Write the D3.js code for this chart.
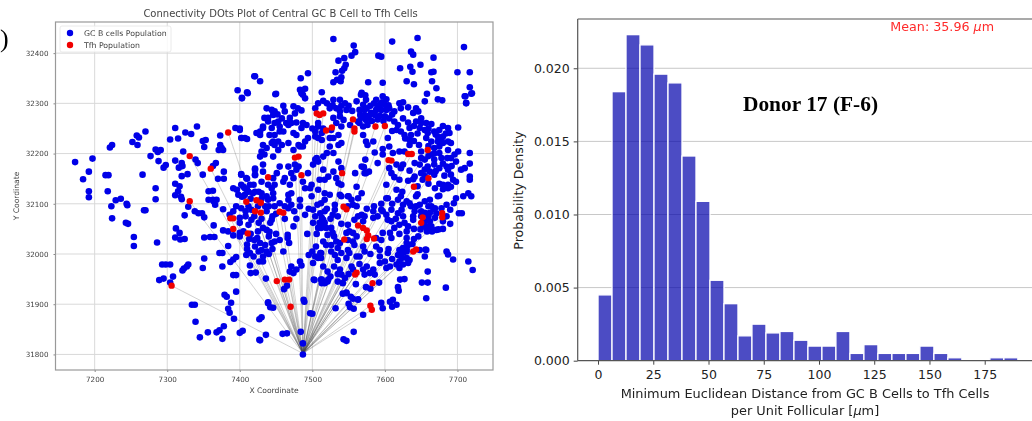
<!DOCTYPE html>
<html>
<head>
<meta charset="utf-8">
<title>Connectivity dots and distance histogram</title>
<script src="https://d3js.org/d3.v7.min.js"></script>
<style>
  html, body { margin: 0; padding: 0; background: #fff; }
  svg { display: block; }
  text { font-family: "DejaVu Sans", sans-serif; }
</style>
</head>
<body>
<svg id="chart" width="1032" height="421"></svg>
<script>
// ============ scatter data (x, y) ============
const gcFarLeft = [[7421,32354],[7397,32326],[7411,32320],[7403,32311],[7394,32251],[7400,32250],[7311,32251],[7341,32254],[7325,32242],[7333,32239],[7304,32228],[7315,32230],[7270,32244],[7258,32236],[7261,32232],[7252,32223],[7259,32217],[7224,32217],[7221,32212],[7349,32225],[7353,32227],[7351,32213],[7373,32236],[7403,32231],[7410,32229],[7373,32217],[7375,32211],[7371,32207],[7377,32207],[7322,32204],[7284,32208],[7291,32207],[7287,32203],[7277,32195],[7288,32185],[7173,32183],[7197,32190],[7192,32164],[7184,32149],[7215,32157],[7219,32157],[7266,32158],[7298,32177],[7295,32172],[7311,32186],[7339,32188],[7342,32181],[7320,32181],[7321,32175],[7316,32172],[7320,32155],[7328,32159],[7349,32158],[7367,32181],[7363,32175],[7370,32150],[7378,32164],[7378,32150],[7402,32159],[7410,32150],[7421,32170],[7421,32157],[7192,32125],[7192,32113],[7218,32125],[7284,32131],[7311,32140],[7317,32135],[7315,32125],[7311,32117],[7319,32114],[7320,32109],[7284,32109],[7229,32107],[7236,32110],[7244,32100],[7357,32125],[7363,32126],[7364,32105],[7357,32108],[7368,32108],[7391,32131],[7396,32128],[7398,32118],[7403,32114],[7407,32118],[7410,32128],[7414,32138],[7419,32138],[7405,32134],[7426,32124],[7430,32121],[7421,32124]];

const gcLowerLeft = [[7223,32095],[7224,32071],[7243,32062],[7246,32060],[7245,32097],[7268,32087],[7270,32087],[7254,32034],[7254,32016],[7286,32023],[7312,32051],[7317,32042],[7311,32033],[7318,32029],[7324,32030],[7324,32077],[7329,32094],[7338,32085],[7343,32081],[7348,32081],[7351,32073],[7364,32057],[7377,32089],[7351,32033],[7359,32034],[7365,32034],[7377,32047],[7384,32016],[7410,32019],[7395,31994],[7391,31989],[7387,31984],[7372,32002],[7376,32002],[7351,31991],[7349,31972],[7376,31975],[7293,31979],[7298,31979],[7304,31979],[7329,31979],[7327,31975],[7323,31971],[7321,31967],[7289,31948],[7295,31951],[7304,31943],[7308,31955],[7395,31958],[7391,31958],[7414,31977],[7415,31962],[7422,31963],[7395,31925],[7379,31919],[7382,31915],[7388,31903],[7384,31891],[7386,31883],[7392,31871],[7334,31899],[7338,31899],[7339,31865],[7378,31856],[7372,31848],[7368,31844],[7356,31844],[7345,31834],[7376,31831],[7400,31843],[7404,31847],[7427,31870],[7427,31829]];

const gcLowerRight = [[7430,31874],[7436,31839],[7428,31828],[7459,31841],[7465,31842],[7439,31902],[7442,31894],[7446,31893],[7461,31930],[7465,31937],[7436,31951],[7503,31948],[7513,31949],[7517,31943],[7522,31949],[7488,31909],[7489,31905],[7497,31882],[7500,31881],[7484,31845],[7487,31822],[7487,31800],[7532,31892],[7543,31830],[7547,31827],[7557,31845],[7570,31879],[7552,31894],[7557,31891],[7550,31901],[7563,31910],[7553,31915],[7542,31921],[7547,31923],[7595,31903],[7597,31892],[7607,31905],[7611,31909],[7610,31895],[7616,31899],[7657,31912],[7684,31933],[7618,31934],[7619,31927],[7621,31949],[7627,31950],[7651,31943],[7659,31943],[7659,31965],[7685,32005],[7687,31999],[7694,31989],[7715,31985],[7721,31968],[7574,31934],[7580,31931],[7592,31943],[7702,32081],[7706,32081],[7678,32091],[7685,32098],[7690,32088],[7695,32101],[7662,32082],[7667,32089],[7655,32082],[7660,32055],[7665,32045],[7674,32049],[7658,32045],[7649,32049],[7656,32009]];

const gcTop = [[7529,32428],[7557,32415],[7559,32402],[7554,32395],[7536,32385],[7544,32390],[7546,32377],[7544,32370],[7541,32365],[7532,32362],[7540,32352],[7534,32347],[7529,32342],[7539,32344],[7494,32360],[7484,32350],[7420,32354],[7428,32344],[7577,32342],[7597,32341],[7591,32395],[7595,32393],[7610,32423],[7645,32430],[7636,32403],[7639,32397],[7667,32391],[7621,32370],[7635,32373],[7638,32363],[7649,32377],[7630,32344],[7640,32338],[7664,32362],[7667,32363],[7700,32362],[7717,32362],[7709,32412],[7665,32344],[7671,32330],[7711,32314],[7720,32320],[7717,32332],[7712,32301],[7483,32327],[7490,32329],[7485,32320],[7449,32318],[7568,32321],[7573,32316]];

const gcMidLeftUpper = [[7450,32319],[7485,32324],[7487,32317],[7490,32310],[7513,32322],[7410,32322],[7403,32310],[7437,32290],[7444,32287],[7448,32284],[7446,32277],[7439,32271],[7434,32271],[7432,32254],[7439,32264],[7453,32264],[7448,32261],[7455,32254],[7462,32284],[7474,32294],[7476,32280],[7469,32271],[7471,32261],[7464,32261],[7467,32257],[7485,32286],[7487,32261],[7492,32257],[7485,32251],[7508,32300],[7504,32290],[7508,32261],[7508,32254],[7504,32244],[7474,32241],[7478,32237],[7460,32244],[7455,32244],[7444,32251],[7448,32237],[7441,32237],[7428,32244],[7423,32241],[7428,32237],[7432,32251],[7402,32231],[7407,32231],[7400,32247],[7446,32224],[7453,32224],[7458,32217],[7467,32221],[7448,32217],[7444,32221],[7432,32217],[7437,32211],[7430,32204],[7434,32198],[7428,32194],[7453,32207],[7446,32194],[7474,32207],[7481,32217],[7490,32224],[7494,32231],[7487,32214],[7483,32214],[7508,32231],[7504,32234],[7513,32227],[7524,32231],[7529,32231],[7513,32241],[7524,32214],[7536,32217],[7540,32221],[7529,32201],[7520,32201],[7515,32194],[7506,32191],[7508,32184],[7504,32188],[7536,32184],[7559,32161],[7540,32171],[7529,32164],[7515,32168],[7501,32178],[7494,32161],[7510,32148],[7522,32154],[7517,32148],[7533,32151],[7536,32141],[7540,32138],[7517,32121],[7524,32118],[7538,32118],[7550,32115],[7508,32128],[7499,32138],[7497,32131],[7490,32131],[7487,32144],[7478,32168],[7476,32178],[7481,32174],[7467,32174],[7455,32174],[7451,32161],[7462,32151],[7471,32161],[7474,32151],[7469,32138],[7460,32144],[7432,32178],[7432,32164],[7421,32168],[7421,32158],[7409,32151],[7402,32158],[7430,32144],[7439,32138],[7446,32151],[7448,32138],[7444,32131],[7446,32121],[7437,32115],[7418,32121],[7412,32124],[7407,32131],[7402,32138],[7405,32115],[7467,32118],[7471,32121],[7499,32115],[7568,32174],[7572,32161],[7568,32121],[7563,32111],[7561,32134],[7538,32307],[7529,32307],[7545,32300],[7547,32287],[7561,32304],[7533,32290],[7524,32290],[7538,32284],[7538,32274],[7543,32267],[7529,32271],[7552,32257],[7566,32277],[7563,32264],[7540,32254],[7533,32261],[7526,32247],[7536,32237]];

const gcMidRightUpper = [[7567,32317],[7574,32307],[7570,32297],[7565,32287],[7572,32287],[7588,32307],[7597,32314],[7602,32308],[7593,32297],[7600,32297],[7588,32287],[7595,32287],[7602,32287],[7586,32277],[7593,32275],[7600,32274],[7581,32281],[7606,32290],[7613,32284],[7620,32300],[7625,32302],[7632,32292],[7622,32290],[7639,32281],[7643,32290],[7646,32284],[7655,32304],[7658,32319],[7673,32308],[7679,32306],[7710,32314],[7719,32319],[7712,32300],[7701,32252],[7567,32271],[7574,32267],[7565,32261],[7570,32254],[7576,32257],[7570,32237],[7574,32224],[7576,32217],[7584,32224],[7604,32231],[7606,32214],[7613,32264],[7618,32257],[7616,32247],[7622,32244],[7627,32237],[7634,32251],[7643,32264],[7650,32261],[7657,32261],[7664,32259],[7648,32251],[7655,32247],[7659,32241],[7636,32237],[7634,32227],[7634,32217],[7647,32217],[7657,32231],[7664,32224],[7668,32244],[7675,32247],[7680,32255],[7687,32251],[7689,32241],[7673,32234],[7680,32234],[7673,32224],[7680,32221],[7687,32224],[7691,32221],[7675,32214],[7668,32211],[7687,32207],[7701,32204],[7696,32198],[7717,32201],[7664,32198],[7675,32201],[7668,32188],[7678,32191],[7686,32191],[7691,32191],[7698,32184],[7717,32180],[7650,32204],[7650,32191],[7641,32181],[7648,32178],[7655,32188],[7659,32174],[7668,32178],[7675,32171],[7685,32174],[7687,32168],[7705,32168],[7710,32171],[7627,32204],[7620,32204],[7611,32201],[7597,32209],[7586,32202],[7597,32198],[7590,32181],[7573,32188],[7571,32173],[7578,32164],[7574,32161],[7616,32178],[7625,32178],[7622,32171],[7634,32166],[7606,32171],[7609,32161],[7613,32153],[7620,32148],[7632,32146],[7639,32149],[7641,32154],[7650,32161],[7655,32168],[7662,32164],[7652,32148],[7668,32158],[7682,32156],[7691,32158],[7694,32148],[7698,32144],[7717,32154],[7717,32148],[7687,32138],[7680,32138],[7680,32129],[7687,32131],[7691,32134],[7669,32131],[7602,32138],[7616,32128],[7624,32124],[7645,32119],[7675,32116],[7602,32111],[7622,32115],[7698,32111],[7708,32115],[7715,32121],[7719,32115]];

const gcMidLeftLower = [[7363,32108],[7366,32098],[7386,32078],[7391,32085],[7402,32091],[7412,32095],[7416,32088],[7439,32108],[7446,32111],[7435,32095],[7437,32085],[7448,32095],[7455,32101],[7467,32108],[7471,32098],[7467,32091],[7483,32108],[7483,32095],[7507,32098],[7501,32088],[7511,32081],[7504,32075],[7513,32072],[7501,32062],[7508,32052],[7515,32058],[7506,32040],[7493,32040],[7400,32072],[7400,32062],[7416,32068],[7412,32058],[7426,32062],[7444,32068],[7442,32062],[7462,32070],[7478,32070],[7474,32055],[7432,32052],[7437,32048],[7441,32044],[7384,32045],[7391,32037],[7400,32042],[7400,32035],[7413,32030],[7424,32032],[7428,32022],[7421,32015],[7426,32005],[7435,32018],[7444,32022],[7448,32025],[7430,32008],[7437,32005],[7414,32002],[7409,31998],[7419,31995],[7432,31995],[7427,31985],[7432,31985],[7460,32005],[7466,32038],[7466,32032],[7468,32022],[7495,31998],[7504,31995],[7511,32002],[7508,31992],[7501,31982],[7483,31985],[7485,31977],[7471,31975],[7478,31969],[7474,31962],[7469,31965],[7439,31904],[7502,31949],[7513,31942]];

const gcMidRightLower = [[7517,32108],[7512,32101],[7540,32115],[7549,32115],[7554,32108],[7556,32098],[7549,32095],[7561,32095],[7531,32098],[7531,32088],[7528,32078],[7517,32085],[7515,32068],[7510,32062],[7517,32062],[7512,32052],[7519,32052],[7526,32052],[7528,32042],[7521,32038],[7568,32078],[7563,32075],[7572,32075],[7570,32065],[7549,32058],[7558,32068],[7551,32045],[7547,32042],[7556,32042],[7561,32035],[7533,32025],[7526,32018],[7519,32018],[7538,32022],[7535,32012],[7526,32005],[7531,31998],[7512,32002],[7512,31992],[7549,32028],[7556,32025],[7558,32018],[7549,32008],[7540,32002],[7551,32002],[7547,31992],[7535,31988],[7561,31995],[7565,31995],[7572,32005],[7588,32015],[7593,32008],[7593,31995],[7604,32002],[7593,31982],[7600,31985],[7607,31975],[7602,31972],[7584,32072],[7590,32075],[7597,32085],[7602,32078],[7609,32088],[7618,32081],[7595,32088],[7584,32085],[7604,32068],[7609,32065],[7620,32058],[7627,32062],[7632,32055],[7613,32052],[7597,32042],[7607,32042],[7609,32032],[7595,32028],[7588,32032],[7639,32075],[7639,32068],[7641,32085],[7648,32098],[7655,32105],[7662,32108],[7643,32095],[7664,32095],[7669,32091],[7673,32115],[7671,32081],[7669,32072],[7662,32065],[7664,32055],[7671,32048],[7657,32052],[7653,32058],[7646,32035],[7623,32088],[7618,32108],[7604,32111],[7643,32115],[7630,32105],[7634,32101],[7636,32095],[7630,32032],[7630,32022],[7632,32018],[7620,32008],[7625,32002],[7630,32005],[7618,31998],[7623,31992],[7630,31992],[7620,31985],[7616,31979],[7625,31979],[7632,31982],[7620,31972],[7634,31988],[7648,32008],[7657,32008],[7655,31995],[7570,31969],[7572,31959],[7579,31962],[7584,31969],[7586,31959],[7554,31975],[7556,31969],[7538,31969],[7540,31959],[7545,31952],[7542,31942],[7535,31945],[7521,31965],[7521,31945],[7517,31942],[7512,31949],[7547,31922],[7556,31911],[7563,31909]];

// cells inside the solid blobs, where single dots cannot be told apart
const gcDenseUpper = [[7575,32290],[7580,32295],[7585,32300],[7590,32292],[7596,32302],[7605,32296],[7610,32278],[7578,32275],[7590,32268],[7598,32265],[7606,32270],[7582,32265],[7572,32276],[7540,32295],[7550,32295],[7555,32285],[7520,32300],[7528,32296],[7515,32305],[7480,32290],[7460,32295],[7452,32278],[7458,32270],[7478,32262],[7500,32250],[7515,32250],[7625,32270],[7632,32262],[7640,32255],[7650,32270],[7660,32250],[7670,32238],[7678,32228],[7684,32240],[7660,32215],[7668,32200],[7680,32180],[7692,32175],[7660,32195],[7670,32165],[7655,32155],[7660,32140],[7645,32135],[7675,32140],[7610,32245],[7640,32225],[7645,32240],[7628,32230]];

const gcDenseLower = [[7408,32085],[7420,32075],[7430,32070],[7408,32075],[7395,32095],[7405,32045],[7415,32040],[7425,32045],[7450,32080],[7445,32075],[7440,32095],[7462,32095],[7475,32085],[7490,32078],[7495,32090],[7410,32010],[7420,32028],[7440,32035],[7450,32040],[7455,32028],[7520,32090],[7535,32075],[7525,32070],[7540,32060],[7530,32035],[7575,32090],[7585,32095],[7595,32100],[7610,32100],[7625,32098],[7650,32085],[7660,32095],[7650,32075],[7660,32075],[7655,32065],[7680,32065],[7685,32075],[7680,32050],[7690,32060],[7625,32075],[7615,32070],[7630,32045],[7640,32050],[7620,32040],[7640,32030],[7630,32010],[7638,32020],[7625,32012],[7610,31990],[7605,32010],[7570,32015],[7580,32000],[7565,31980],[7575,31975],[7550,31960],[7560,31940],[7535,31960],[7525,31955],[7530,31975],[7515,31975],[7505,32015],[7515,32025],[7500,32005],[7440,32000],[7445,32010],[7425,32095],[7430,32110],[7415,32110]];

const tfhCells = [[7384,32242],[7331,32195],[7360,32170],[7331,32105],[7409,32104],[7423,32107],[7506,32280],[7510,32277],[7515,32280],[7519,32246],[7527,32252],[7556,32268],[7558,32250],[7558,32244],[7587,32254],[7600,32255],[7476,32192],[7481,32194],[7485,32157],[7439,32153],[7541,32161],[7605,32187],[7609,32186],[7632,32199],[7637,32199],[7659,32207],[7660,32151],[7640,32134],[7429,32102],[7306,31937],[7387,32071],[7391,32071],[7391,32050],[7411,32041],[7421,32085],[7429,32082],[7455,32084],[7460,32082],[7543,32094],[7547,32089],[7563,32057],[7570,32052],[7575,32047],[7577,32037],[7575,32030],[7585,32031],[7544,32029],[7652,32073],[7650,32062],[7679,32081],[7679,32073],[7639,32005],[7643,32009],[7559,31959],[7561,31963],[7583,31942],[7451,31946],[7462,31949],[7468,31949],[7470,31895],[7580,31897],[7582,31889]];

const centralCell = [7487, 31802];
const scatterXTicks = [7200, 7300, 7400, 7500, 7600, 7700];
const scatterYTicks = [31800, 31900, 32000, 32100, 32200, 32300, 32400];

// ============ histogram data ============
const binWidth = 190 / 30;
const densities = [0.0045, 0.0184, 0.0223, 0.0216, 0.0196, 0.0190, 0.0140, 0.0109, 0.0055, 0.0039, 0.0017, 0.0025, 0.0019, 0.0020, 0.0014, 0.0010, 0.0010, 0.0020, 0.0005, 0.0011, 0.0005, 0.0005, 0.0005, 0.0010, 0.0005, 0.0002, 0, 0, 0.0002, 0.0002];
const histXTicks = [0, 25, 50, 75, 100, 125, 150, 175];
const histYTicks = [0, 0.005, 0.010, 0.015, 0.020];

(function() {
  'use strict';

  const svg = d3.select('#chart');
  const defs = svg.append('defs');
  defs.append('filter').attr('id', 'soft')
    .append('feGaussianBlur').attr('stdDeviation', 0.5);

  drawScatter();
  drawHistogram();

  // cropped panel label at the page edge
  svg.append('text')
    .attr('x', 0).attr('y', 47)
    .style('font-family', '"Liberation Serif", serif')
    .style('font-size', '26px')
    .text(')');

  /**
   * left panel: GC B cells, Tfh cells and the links from the central cell
   */
  function drawScatter() {
    const left = 55.5, right = 493, top = 22, bottom = 370;
    const x = d3.scaleLinear().domain([7146, 7749]).range([left, right]);
    const y = d3.scaleLinear().domain([31769, 32462]).range([bottom, top]);

    const g = svg.append('g').attr('filter', 'url(#soft)');

    // grid
    g.append('g').selectAll('line').data(scatterXTicks).join('line')
      .attr('x1', d => x(d)).attr('x2', d => x(d))
      .attr('y1', top).attr('y2', bottom)
      .style('stroke', '#d9d9d9').style('stroke-width', 1);
    g.append('g').selectAll('line').data(scatterYTicks).join('line')
      .attr('x1', left).attr('x2', right)
      .attr('y1', d => y(d)).attr('y2', d => y(d))
      .style('stroke', '#d9d9d9').style('stroke-width', 1);

    // links
    g.append('g').selectAll('line').data(tfhCells).join('line')
      .attr('x1', x(centralCell[0])).attr('y1', y(centralCell[1]))
      .attr('x2', d => x(d[0])).attr('y2', d => y(d[1]))
      .style('stroke', '#444').style('stroke-opacity', 0.3).style('stroke-width', 0.8);

    const gcCells = [].concat(gcFarLeft, gcLowerLeft, gcLowerRight, gcTop,
      gcMidLeftUpper, gcMidRightUpper, gcMidLeftLower, gcMidRightLower,
      gcDenseUpper, gcDenseLower);

    g.append('g').selectAll('circle').data(gcCells).join('circle')
      .attr('cx', d => x(d[0])).attr('cy', d => y(d[1])).attr('r', 3.3)
      .style('fill', '#0000e8');
    g.append('g').selectAll('circle').data(tfhCells).join('circle')
      .attr('cx', d => x(d[0])).attr('cy', d => y(d[1])).attr('r', 3.2)
      .style('fill', '#f00000');

    // axes
    const xAxis = g.append('g').attr('transform', `translate(0,${bottom})`)
      .call(d3.axisBottom(x).tickValues(scatterXTicks).tickFormat(d3.format('d')).tickSize(2).tickPadding(5));
    const yAxis = g.append('g').attr('transform', `translate(${left},0)`)
      .call(d3.axisLeft(y).tickValues(scatterYTicks).tickFormat(d3.format('d')).tickSize(2).tickPadding(5));
    [xAxis, yAxis].forEach(a => {
      a.selectAll('text').style('font-size', '7.2px').style('fill', '#444');
      a.selectAll('line').style('stroke', '#888');
      a.select('.domain').remove();
    });

    // frame
    g.append('rect')
      .attr('x', left).attr('y', top)
      .attr('width', right - left).attr('height', bottom - top)
      .style('fill', 'none').style('stroke', '#999').style('stroke-width', 1.2);

    // legend
    const legend = g.append('g');
    legend.append('rect')
      .attr('x', 60).attr('y', 26).attr('width', 111).attr('height', 26).attr('rx', 2)
      .style('fill', '#fff').style('fill-opacity', 0.85)
      .style('stroke', '#e4e4e4').style('stroke-width', 0.8);
    [['GC B cells Population', '#0000e8', 33], ['Tfh Population', '#f00000', 45]].forEach(item => {
      legend.append('circle').attr('cx', 70).attr('cy', item[2]).attr('r', 3.2).style('fill', item[1]);
      legend.append('text').attr('x', 84).attr('y', item[2] + 2.5)
        .style('font-size', '7.8px').style('fill', '#444').text(item[0]);
    });

    // titles
    g.append('text').attr('x', 280.5).attr('y', 17).attr('text-anchor', 'middle')
      .style('font-size', '10px').style('fill', '#444')
      .text('Connectivity DOts Plot of Central GC B Cell to Tfh Cells');
    g.append('text').attr('x', 274).attr('y', 393).attr('text-anchor', 'middle')
      .style('font-size', '7.6px').style('fill', '#444').text('X Coordinate');
    g.append('text').attr('transform', 'translate(19,196) rotate(-90)').attr('text-anchor', 'middle')
      .style('font-size', '7.6px').style('fill', '#444').text('Y Coordinate');
  }

  /**
   * right panel: histogram of minimum distances
   */
  function drawHistogram() {
    const left = 577.7, right = 1032, top = 19, bottom = 360.7;
    const x = d3.scaleLinear().domain([-9.2, 196.4]).range([left, right]);
    const y = d3.scaleLinear().domain([0, 0.02337]).range([bottom, top]);

    const g = svg.append('g');

    g.append('g').selectAll('line').data(histYTicks.slice(1)).join('line')
      .attr('x1', left).attr('x2', right)
      .attr('y1', d => y(d)).attr('y2', d => y(d))
      .style('stroke', '#c8c8c8').style('stroke-width', 1);

    g.append('g').selectAll('rect').data(densities).join('rect')
      .attr('x', (d, i) => x(i * binWidth))
      .attr('y', d => y(d))
      .attr('width', x(binWidth) - x(0))
      .attr('height', d => bottom - y(d))
      .style('fill', '#0000ab').style('fill-opacity', 0.7)
      .style('stroke', '#fff').style('stroke-width', 1.3);

    const xAxis = g.append('g').attr('transform', `translate(0,${bottom})`)
      .call(d3.axisBottom(x).tickValues(histXTicks).tickSize(4).tickPadding(5));
    const yAxis = g.append('g').attr('transform', `translate(${left},0)`)
      .call(d3.axisLeft(y).tickValues(histYTicks).tickFormat(d3.format('.3f')).tickSize(4).tickPadding(4));
    [xAxis, yAxis].forEach(a => {
      a.selectAll('text').style('font-size', '12.5px').style('fill', '#222');
      a.selectAll('line').style('stroke', '#444');
      a.select('.domain').remove();
    });

    // spines: left, top and bottom, the right one is outside the crop
    [[left, top, right, top], [left, top, left, bottom], [left, bottom, right, bottom]].forEach(s => {
      g.append('line')
        .attr('x1', s[0]).attr('y1', s[1]).attr('x2', s[2]).attr('y2', s[3])
        .style('stroke', '#555').style('stroke-width', 1.2);
    });

    g.append('text').attr('transform', 'translate(523,190.5) rotate(-90)').attr('text-anchor', 'middle')
      .style('font-size', '12.6px').style('fill', '#222').text('Probability Density');
    g.append('text').attr('x', 805).attr('y', 398).attr('text-anchor', 'middle')
      .style('font-size', '12.9px').style('fill', '#222')
      .text('Minimum Euclidean Distance from GC B Cells to Tfh Cells');
    const unitLabel = g.append('text').attr('x', 805).attr('y', 415).attr('text-anchor', 'middle')
      .style('font-size', '12.9px').style('fill', '#222');
    unitLabel.append('tspan').text('per Unit Follicular [');
    unitLabel.append('tspan').style('font-style', 'italic').text('\u03bc');
    unitLabel.append('tspan').text('m]');

    const meanLabel = g.append('text').attr('x', 994).attr('y', 31).attr('text-anchor', 'end')
      .style('font-size', '12.7px').style('fill', '#ff2a2a');
    meanLabel.append('tspan').text('Mean: 35.96 ');
    meanLabel.append('tspan').style('font-style', 'italic').text('\u03bc');
    meanLabel.append('tspan').text('m');

    g.append('text').attr('x', 810.5).attr('y', 111).attr('text-anchor', 'middle')
      .style('font-family', '"Liberation Serif", serif')
      .style('font-weight', 'bold').style('font-size', '21.4px').style('fill', '#000')
      .text('Donor 17 (F-6)');
  }
})();
</script>
</body>
</html>
